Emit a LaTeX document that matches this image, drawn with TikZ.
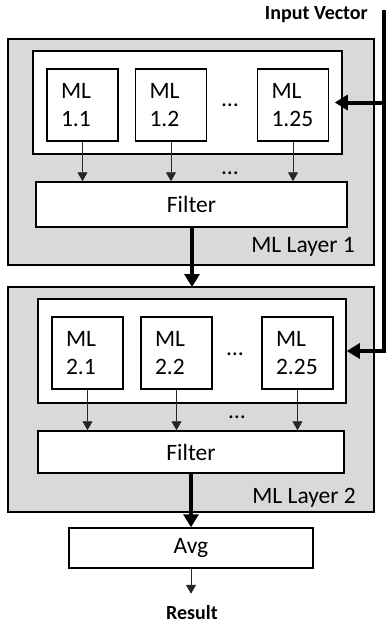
\documentclass[tikz,border=0pt]{standalone}
\usepackage{fontspec}
\setmainfont{Carlito}
\usetikzlibrary{arrows.meta,calc}
\definecolor{layergray}{HTML}{D9D9D9}
\begin{document}
\begin{tikzpicture}[x=1pt,y=-1pt,
  layerbox/.style={draw=black,line width=1.5pt,fill=layergray},
  whitebox/.style={draw=black,line width=1.5pt,fill=white},
  mlbox/.style={draw=black,line width=1.5pt,fill=white,inner xsep=14pt,inner ysep=0pt,
     text width=43pt,minimum height=72pt,align=left,font=\fontsize{23.5}{27.5}\selectfont},
  procbox/.style={draw=black,line width=1.5pt,fill=white,font=\fontsize{23.5}{27}\selectfont},
  lbl/.style={font=\fontsize{23.5}{27}\selectfont,inner sep=0pt},
  bold/.style={font=\fontsize{20}{23}\selectfont\bfseries,inner sep=0pt},
  dots/.style={font=\fontsize{23.5}{27}\selectfont,inner sep=0pt,anchor=base},
  thinarrow/.style={draw=black!85,line width=0.9pt,-{Triangle[width=10pt,length=9pt]}},
  bigarrow/.style={draw=black,line width=4pt,-{Triangle[width=15pt,length=13pt]}}]
\useasboundingbox (0,0) rectangle (389,624);

% Layer 1
\path[layerbox] (8,39) rectangle (374,265);
\node[inner sep=0pt,minimum width=309pt,minimum height=103pt,whitebox] (inner1) at (187.5,102.5) {};
\node[mlbox] (m11) at (82.5,105) {ML\\1.1};
\node[mlbox] (m12) at (171,105) {ML\\1.2};
\node[mlbox] (m125) at (293,105) {ML\\1.25};
\node[dots] (d1a) at (230,106) {…};
\node[procbox,minimum width=311pt,minimum height=45pt,inner sep=0pt] (f1) at (191.5,204.5) {Filter};
\node[dots] (d1b) at (230,174) {…};
\node[lbl,anchor=east] (l1) at (355,247) {ML Layer 1};
\coordinate (l1top) at (192,287);

% Layer 2
\path[layerbox] (8,287) rectangle (374,512);
\node[inner sep=0pt,minimum width=308pt,minimum height=104pt,whitebox] (inner2) at (192,351) {};
\node[mlbox] (m21) at (87.5,353) {ML\\2.1};
\node[mlbox] (m22) at (176.5,353) {ML\\2.2};
\node[mlbox] (m225) at (297.5,353) {ML\\2.25};
\node[dots] (d2a) at (235,355) {…};
\node[procbox,minimum width=306pt,minimum height=42pt,inner sep=0pt] (f2) at (191,452) {Filter};
\node[dots] (d2b) at (237,418) {…};
\node[lbl,anchor=east] (l2) at (356,498) {ML Layer 2};

% Avg and result
\node[procbox,minimum width=244pt,minimum height=40pt,inner sep=0pt] (avg) at (191,548) {Avg};
\node[bold,anchor=base] (res) at (192,619) {Result};
\node[bold,anchor=east] (iv) at (368,15) {Input Vector};
\coordinate (ivtop) at (384,10);

% connectors layer 1
\foreach \m in {m11,m12,m125} \draw[thinarrow] (\m.south) -- (\m.south |- f1.north);
\draw[bigarrow] (f1.south -| l1top) -- (l1top);
% connectors layer 2
\foreach \m in {m21,m22,m225} \draw[thinarrow] (\m.south) -- (\m.south |- f2.north);
\draw[bigarrow] (f2.south -| avg.north) -- (avg.north);
\draw[thinarrow] (avg.south) -- ($(avg.south)+(0,25)$);

% input vector
\draw[bigarrow] (ivtop) |- (inner2.east);
\draw[bigarrow,shorten >=-8pt] (ivtop |- inner1.east) -- (inner1.east);
\end{tikzpicture}
\end{document}
